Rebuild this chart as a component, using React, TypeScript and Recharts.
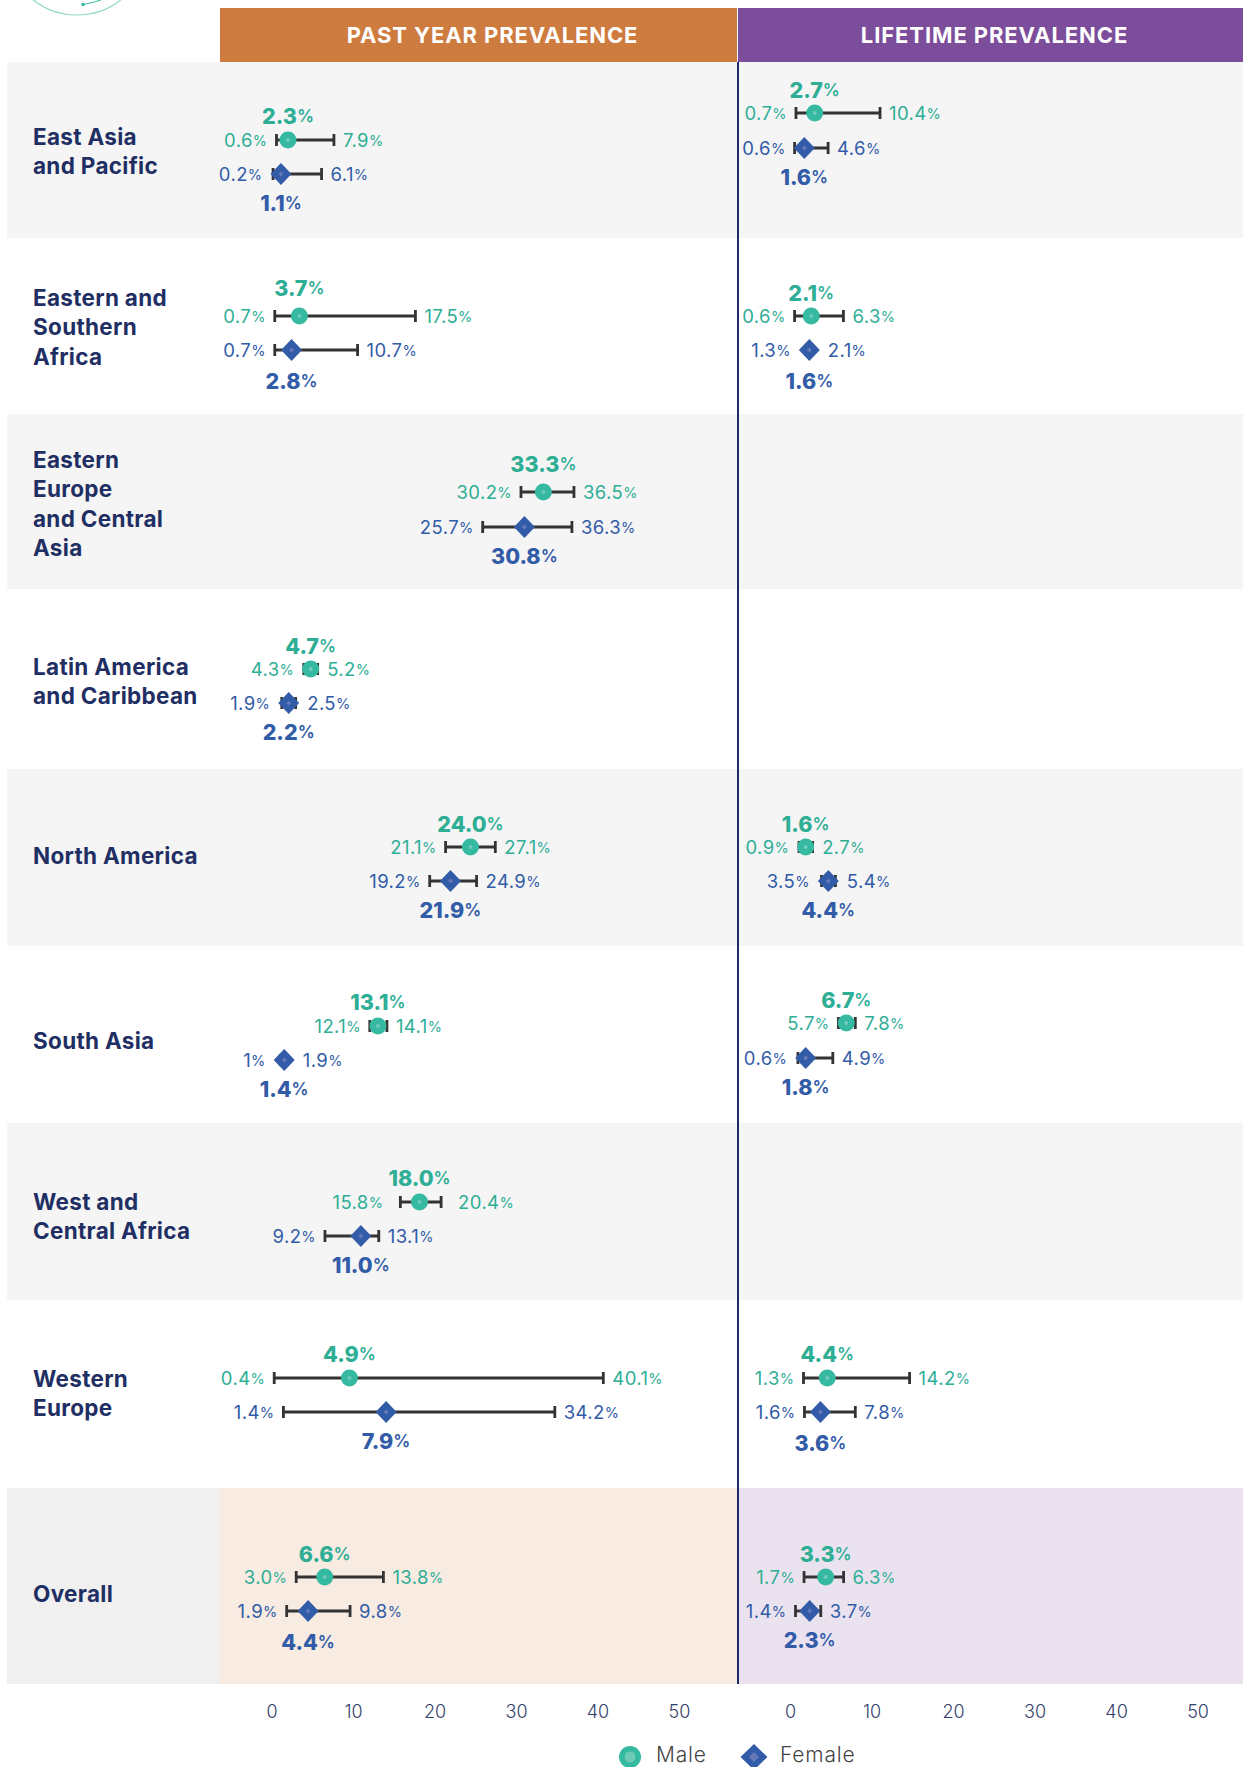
import { ScatterChart, Scatter, XAxis, YAxis, ErrorBar, ReferenceArea } from 'recharts'

// region names, one entry per table row
const regions = [
  ['East Asia', 'and Pacific'],
  ['Eastern and', 'Southern', 'Africa'],
  ['Eastern', 'Europe', 'and Central', 'Asia'],
  ['Latin America', 'and Caribbean'],
  ['North America'],
  ['South Asia'],
  ['West and', 'Central Africa'],
  ['Western', 'Europe'],
  ['Overall'],
]

// where the marks sit on the 0-50 axis. The Western Europe marks don't agree with their printed labels in the source
const pastMaleLow = [0.55, 0.34, 30.55, 3.9, 21.3, 12, 15.75, 0.27, 2.97]
const pastMaleMid = [1.96, 3.36, 33.3, 4.75, 24.35, 13, 18.1, 9.5, 6.47]
const pastMaleHigh = [7.6, 17.6, 37.05, 5.6, 27.4, 14.1, 20.75, 40.65, 13.67]
const pastFemaleLow = [0.13, 0.34, 25.85, 1.2, 19.35, 1, 6.5, 1.4, 1.8]
const pastFemaleMid = [1.1, 2.4, 30.97, 2.05, 21.9, 1.5, 10.9, 14, 4.43]
const pastFemaleHigh = [6.08, 10.5, 36.8, 2.9, 25.1, 1.9, 13.1, 34.7, 9.58]

const lifeMaleLow = [0.66, 0.49, null, null, 1.03, 5.87, null, 1.58, 1.65]
const lifeMaleMid = [2.96, 2.53, null, null, 1.85, 6.83, null, 4.5, 4.3]
const lifeMaleHigh = [10.97, 6.48, null, null, 2.7, 7.94, null, 14.6, 6.5]
const lifeFemaleLow = [0.49, 1.9, null, null, 3.8, 0.9, null, 1.7, 0.6]
const lifeFemaleMid = [1.68, 2.3, null, null, 4.63, 1.85, null, 3.66, 2.34]
const lifeFemaleHigh = [4.6, 2.7, null, null, 5.5, 5.18, null, 7.94, 3.7]

// printed labels: low, mid, high
const pastMaleText = [
  ['0.6', '2.3', '7.9'], ['0.7', '3.7', '17.5'], ['30.2', '33.3', '36.5'],
  ['4.3', '4.7', '5.2'], ['21.1', '24.0', '27.1'], ['12.1', '13.1', '14.1'],
  ['15.8', '18.0', '20.4'], ['0.4', '4.9', '40.1'], ['3.0', '6.6', '13.8'],
]
const pastFemaleText = [
  ['0.2', '1.1', '6.1'], ['0.7', '2.8', '10.7'], ['25.7', '30.8', '36.3'],
  ['1.9', '2.2', '2.5'], ['19.2', '21.9', '24.9'], ['1', '1.4', '1.9'],
  ['9.2', '11.0', '13.1'], ['1.4', '7.9', '34.2'], ['1.9', '4.4', '9.8'],
]
const lifeMaleText = [
  ['0.7', '2.7', '10.4'], ['0.6', '2.1', '6.3'], null,
  null, ['0.9', '1.6', '2.7'], ['5.7', '6.7', '7.8'],
  null, ['1.3', '4.4', '14.2'], ['1.7', '3.3', '6.3'],
]
const lifeFemaleText = [
  ['0.6', '1.6', '4.6'], ['1.3', '1.6', '2.1'], null,
  null, ['3.5', '4.4', '5.4'], ['0.6', '1.8', '4.9'],
  null, ['1.6', '3.6', '7.8'], ['1.4', '2.3', '3.7'],
]

const axisTicks = [0, 10, 20, 30, 40, 50]

// layout, page pixels
const bandEdges = [62, 238, 414, 589, 769, 946, 1123, 1300, 1488, 1684]
const labelCenters = [151, 327, 504, 681, 856, 1041, 1216, 1393, 1594]
const pastMaleY = [140, 316, 492, 669, 847, 1026, 1202, 1378, 1577]
const pastFemaleY = [174, 350, 527, 703, 881, 1060, 1236, 1412, 1611]
const lifeMaleY = [113, 316, 492, 669, 847, 1023, 1202, 1378, 1577]
const lifeFemaleY = [148, 350, 527, 703, 881, 1058, 1236, 1412, 1611]
// distance from the mark to its bold label
const pastMaleLift = [24, 28, 28, 23, 23, 24, 24, 24, 23]
const pastFemaleDrop = [29, 31, 29, 29, 29, 29, 29, 29, 31]
const lifeMaleLift = [23, 23, 23, 23, 23, 23, 23, 24, 23]
const lifeFemaleDrop = [29, 31, 29, 29, 29, 29, 29, 31, 29]
// gap between a whisker end and its printed value
const pastMaleGap = [9, 9, 9, 9, 9, 9, 17, 9, 9]
const PX_PER_UNIT = 8.15

const MALE = '#2fae96'
const FEMALE = '#325ca8'
const NAVY = '#1f2f63'
const FONT = 'Inter, sans-serif'

function buildPoints(low: any[], mid: any[], high: any[], text: any[], ys: number[], offset: number[], gaps?: number[]) {
  const points: any[] = []
  mid.forEach((m, i) => {
    if (m === null) return
    points.push({
      x: m, y: ys[i], low: low[i], high: high[i],
      err: [m - low[i], high[i] - m],
      lowText: text[i][0], midText: text[i][1], highText: text[i][2],
      offset: offset[i], gap: gaps ? gaps[i] : 9,
    })
  })
  return points
}

function ValueText({ x, y, value, color, anchor }: any) {
  return (
    <text x={x} y={y} textAnchor={anchor} fill={color} fontFamily={FONT} fontSize={18.5} letterSpacing={0.4} dominantBaseline="central">
      {value}<tspan fontSize={14.5}>%</tspan>
    </text>
  )
}

function MaleMark({ cx, cy, payload }: any) {
  return (
    <g>
      <circle cx={cx} cy={cy} r={8.5} fill="#35b9a0" />
      <circle cx={cx} cy={cy} r={2} fill="#6fcab8" />
      <text x={cx} y={cy - payload.offset} textAnchor="middle" fill={MALE} fontFamily={FONT} fontSize={21.5} fontWeight={800} dominantBaseline="central">
        {payload.midText}<tspan fontSize={17} fontWeight={600}>%</tspan>
      </text>
    </g>
  )
}

function FemaleMark({ cx, cy, payload }: any) {
  return (
    <g>
      <path d={`M${cx} ${cy - 11}L${cx + 10.5} ${cy}L${cx} ${cy + 11}L${cx - 10.5} ${cy}Z`} fill={FEMALE} />
      <path d={`M${cx} ${cy - 2.5}L${cx + 2.5} ${cy}L${cx} ${cy + 2.5}L${cx - 2.5} ${cy}Z`} fill="#6379b8" />
      <text x={cx} y={cy + payload.offset} textAnchor="middle" fill={FEMALE} fontFamily={FONT} fontSize={21.5} fontWeight={800} dominantBaseline="central">
        {payload.midText}<tspan fontSize={17} fontWeight={600}>%</tspan>
      </text>
    </g>
  )
}

function renderSeries(points: any[], color: string, Mark: any, markHalf: number, key: string) {
  const halfUnits = (markHalf - 1) / PX_PER_UNIT
  const lowLabels = points.map(p => ({ x: Math.min(p.low, p.x - halfUnits), y: p.y, text: p.lowText, gap: p.gap }))
  const highLabels = points.map(p => ({ x: Math.max(p.high, p.x + halfUnits), y: p.y, text: p.highText, gap: p.gap }))
  return [
    <Scatter key={key + 'low'} data={lowLabels} isAnimationActive={false}
      shape={(s: any) => <ValueText x={s.cx - s.payload.gap} y={s.cy} value={s.payload.text} color={color} anchor="end" />} />,
    <Scatter key={key + 'high'} data={highLabels} isAnimationActive={false}
      shape={(s: any) => <ValueText x={s.cx + s.payload.gap} y={s.cy} value={s.payload.text} color={color} anchor="start" />} />,
    <Scatter key={key} data={points} isAnimationActive={false} shape={(s: any) => <Mark {...s} />}>
      <ErrorBar dataKey="err" direction="x" width={6} strokeWidth={2.8} stroke="#333333" />
    </Scatter>,
  ]
}

function Panel({ left, width, domain, male, female, overallFill, labelColumnEnd }: any) {
  return (
    <div style={{ position: 'absolute', left, top: 62 }}>
      <ScatterChart width={width} height={1668} margin={{ top: 0, right: 0, bottom: 0, left: 0 }}>
        <XAxis type="number" dataKey="x" domain={domain} ticks={axisTicks} allowDataOverflow interval={0}
          axisLine={false} tickLine={false} height={46} tickMargin={15}
          tick={{ fontSize: 18, fill: '#333f6b', fontFamily: FONT, fontWeight: 300 }} />
        <YAxis type="number" dataKey="y" domain={[62, 1684]} reversed hide allowDataOverflow />
        {bandEdges.slice(0, -1).map((edge, i) =>
          i % 2 === 0 && i < 8 ? (
            <ReferenceArea key={edge} y1={edge} y2={bandEdges[i + 1]} fill="#f5f5f5" fillOpacity={1} stroke="none" />
          ) : null
        )}
        {labelColumnEnd !== undefined && (
          <ReferenceArea x2={labelColumnEnd} y1={1488} y2={1684} fill="#f0f0f0" fillOpacity={1} stroke="none" />
        )}
        <ReferenceArea x1={labelColumnEnd} y1={1488} y2={1684} fill={overallFill} fillOpacity={1} stroke="none" />
        {renderSeries(male, MALE, MaleMark, 8.5, 'male')}
        {renderSeries(female, FEMALE, FemaleMark, 10.5, 'female')}
      </ScatterChart>
    </div>
  )
}

const headerStyle = {
  position: 'absolute', top: 8, height: 54, lineHeight: '55px', color: '#fff', fontFamily: FONT,
  fontWeight: 700, fontSize: 22, letterSpacing: 0.9, textAlign: 'center', boxSizing: 'border-box',
} as const

export default function App() {
  // left panel also carries the label column, so its domain starts further left
  const pastX0 = 272
  const lifeX0 = 790.6
  const pastDomain = [(7 - pastX0) / PX_PER_UNIT, (737 - pastX0) / PX_PER_UNIT]
  const lifeDomain = [(737 - lifeX0) / PX_PER_UNIT, (1243 - lifeX0) / PX_PER_UNIT]

  return (
    <div style={{ position: 'absolute', left: 0, top: 0, width: 1243, height: 1767, overflow: 'hidden', background: '#fff' }}>
      <svg style={{ position: 'absolute', left: 0, top: 0 }} width={160} height={20}>
        <circle cx={77} cy={-55.6} r={70.6} fill="none" stroke="#8fd8ca" strokeWidth={1.2} />
        <path d="M83 4.5 Q92 3 101 0" fill="none" stroke="#35b9a0" strokeWidth={1} />
        <circle cx={83} cy={4.5} r={1.8} fill="#35b9a0" />
      </svg>

      <div style={{ ...headerStyle, left: 220, width: 517, background: '#ce7b3f', paddingLeft: 28 }}>PAST YEAR PREVALENCE</div>
      <div style={{ ...headerStyle, left: 738, width: 505, background: '#7c4d9b', paddingLeft: 8 }}>LIFETIME PREVALENCE</div>

      <Panel left={7} width={730} domain={pastDomain} overallFill="#f7ebe2" labelColumnEnd={(220 - pastX0) / PX_PER_UNIT}
        male={buildPoints(pastMaleLow, pastMaleMid, pastMaleHigh, pastMaleText, pastMaleY, pastMaleLift, pastMaleGap)}
        female={buildPoints(pastFemaleLow, pastFemaleMid, pastFemaleHigh, pastFemaleText, pastFemaleY, pastFemaleDrop)} />
      <Panel left={737} width={506} domain={lifeDomain} overallFill="#eae3ef"
        male={buildPoints(lifeMaleLow, lifeMaleMid, lifeMaleHigh, lifeMaleText, lifeMaleY, lifeMaleLift)}
        female={buildPoints(lifeFemaleLow, lifeFemaleMid, lifeFemaleHigh, lifeFemaleText, lifeFemaleY, lifeFemaleDrop)} />

      <div style={{ position: 'absolute', left: 737, top: 62, width: 2, height: 1622, background: '#1c2a6c' }} />

      {regions.map((lines, i) => (
        <div key={lines[0]} style={{
          position: 'absolute', left: 33, top: labelCenters[i], transform: 'translateY(-50%)',
          fontFamily: FONT, fontWeight: 700, fontSize: 22.5, letterSpacing: 0.3, lineHeight: '29.3px', color: NAVY, whiteSpace: 'nowrap',
        }}>
          {lines.map(l => <div key={l}>{l}</div>)}
        </div>
      ))}

      <svg style={{ position: 'absolute', left: 600, top: 1735 }} width={300} height={32}>
        <circle cx={30} cy={22} r={11} fill="#35b9a0" />
        <circle cx={30} cy={22} r={5.5} fill="#6fcab8" />
        <path d="M154 9L167.5 22L154 35L140.5 22Z" fill={FEMALE} />
        <path d="M154 17L159 22L154 27L149 22Z" fill="#6379b8" />
        <text x={56} y={26.5} fontFamily={FONT} fontSize={21} letterSpacing={0.8} fontWeight={300} fill="#444">Male</text>
        <text x={180} y={26.5} fontFamily={FONT} fontSize={21} letterSpacing={0.8} fontWeight={300} fill="#444">Female</text>
      </svg>
    </div>
  )
}
